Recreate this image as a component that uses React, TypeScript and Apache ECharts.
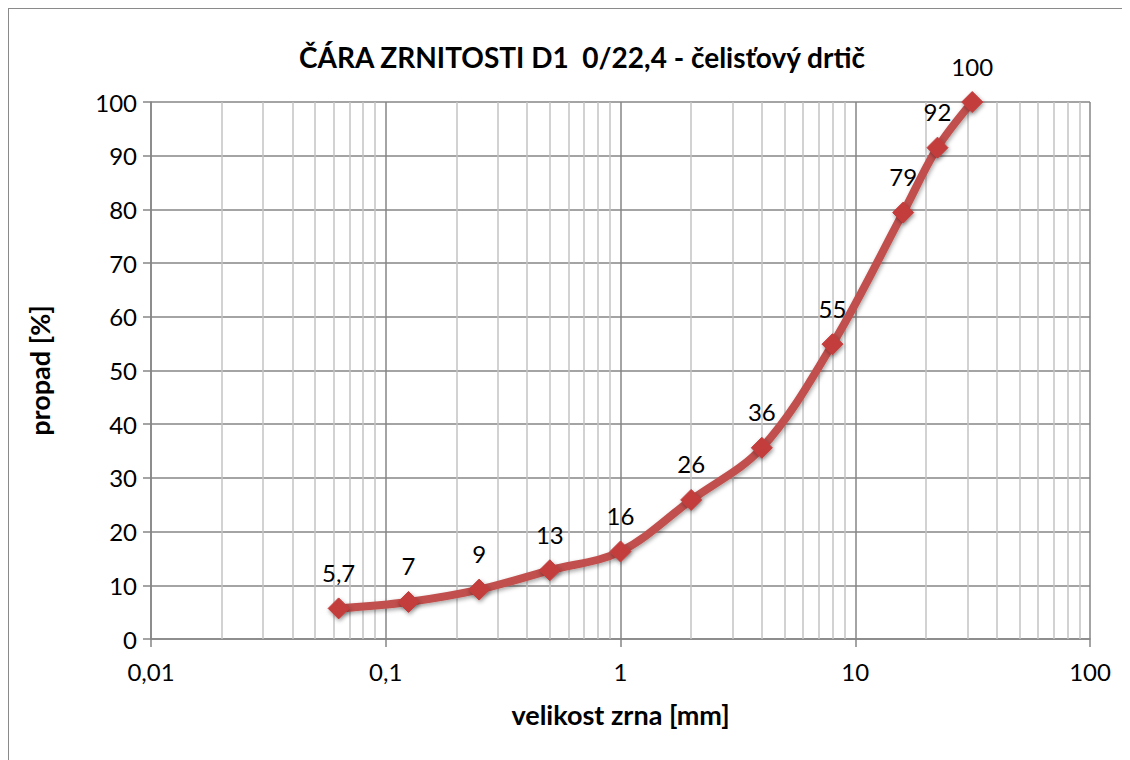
import React, { useEffect, useRef } from "react";
import * as echarts from "echarts";

const sieveSizes = [0.063, 0.125, 0.25, 0.5, 1, 2, 4, 8, 16, 22.4, 31.5];
const passing = [5.7, 6.9, 9.2, 12.8, 16.3, 25.9, 35.6, 54.9, 79.4, 91.5, 100];
const pointLabels = ["5,7", "7", "9", "13", "16", "26", "36", "55", "79", "92", "100"];
const decades = [0.01, 0.1, 1, 10];
const minorSteps = [2, 3, 4, 5, 6, 7, 8, 9];

const titleText = "ČÁRA ZRNITOSTI D1  0/22,4 - čelisťový drtič";
const xName = "velikost zrna [mm]";
const yName = "propad [%]";

const FONT = "Lato, 'Open Sans', sans-serif";

export default function App() {
  const ref = useRef<HTMLDivElement>(null);
  useEffect(() => {
    if (!ref.current) return;
    const chart = echarts.init(ref.current, null, { renderer: "svg" });
    const minorX: number[] = [];
    decades.forEach((d) => minorSteps.forEach((m) => minorX.push(Number((d * m).toPrecision(6)))));
    chart.setOption({
      animation: false,
      backgroundColor: "#ffffff",
      title: {
        text: titleText,
        left: 568,
        textAlign: "center",
        top: 29,
        textStyle: { fontFamily: FONT, fontWeight: "bold", fontSize: 28, color: "#000" },
      },
      grid: { left: 142, right: 40, top: 93, bottom: 121, containLabel: false },
      xAxis: {
        type: "log",
        logBase: 10,
        min: 0.01,
        max: 100,
        name: xName,
        nameLocation: "middle",
        nameGap: 62,
        nameTextStyle: { fontFamily: FONT, fontWeight: "bold", fontSize: 27, color: "#000" },
        axisLine: { show: true, onZero: false, lineStyle: { color: "#868686", width: 1.5 } },
        axisTick: { show: true, inside: false, length: 8, lineStyle: { color: "#868686", width: 1.5 } },
        axisLabel: {
          margin: 20,
          fontFamily: FONT,
          fontSize: 24,
          color: "#000",
          formatter: (v: number) => String(Number(v.toPrecision(6))).replace(".", ","),
        },
        splitLine: { show: true, lineStyle: { color: "#868686", width: 1.5 } },
        minorTick: { show: false },
        minorSplitLine: { show: false },
      },
      yAxis: {
        type: "value",
        min: 0,
        max: 100,
        interval: 10,
        name: yName,
        nameLocation: "middle",
        nameGap: 98,
        nameRotate: 90,
        nameTextStyle: { fontFamily: FONT, fontWeight: "bold", fontSize: 27, color: "#000" },
        axisLine: { show: true, lineStyle: { color: "#868686", width: 1.5 } },
        axisTick: { show: true, inside: false, length: 8, lineStyle: { color: "#868686", width: 1.5 } },
        axisLabel: { margin: 14, fontFamily: FONT, fontSize: 24, color: "#000" },
        splitLine: { show: true, lineStyle: { color: "#868686", width: 1.5 } },
      },
      series: [
        {
          type: "line",
          name: "minor",
          data: [],
          z: 1,
          silent: true,
          markLine: {
            silent: true,
            symbol: ["none", "none"],
            label: { show: false },
            lineStyle: { color: "#c3c3c3", type: "solid", width: 1.5 },
            emphasis: { disabled: true },
            data: minorX.map((v) => ({ xAxis: v })),
          },
        },
        {
          type: "line",
          name: "propad",
          z: 5,
          smooth: 0.35,
          data: sieveSizes.map((x, i) => [x, passing[i]]),
          symbol: "diamond",
          symbolSize: 21,
          lineStyle: {
            color: "#c0504d",
            width: 8,
            shadowColor: "rgba(0,0,0,0.35)",
            shadowBlur: 4,
            shadowOffsetY: 2,
            shadowOffsetX: 1,
          },
          itemStyle: {
            color: "#c43c3c",
            borderColor: "#c43c3c",
            shadowColor: "rgba(0,0,0,0.4)",
            shadowBlur: 4,
            shadowOffsetY: 2,
            shadowOffsetX: 1,
          },
          label: {
            show: true,
            position: "top",
            distance: 13,
            fontFamily: FONT,
            fontSize: 24,
            color: "#000",
            formatter: (p: any) => pointLabels[p.dataIndex],
          },
        },
      ],
    });
    return () => chart.dispose();
  }, []);
  return (
    <div
      ref={ref}
      style={{
        width: 1122,
        height: 752,
        boxSizing: "border-box",
        border: "1.5px solid #8a8a8a",
        borderRight: "none",
        borderBottom: "none",
      }}
    />
  );
}
